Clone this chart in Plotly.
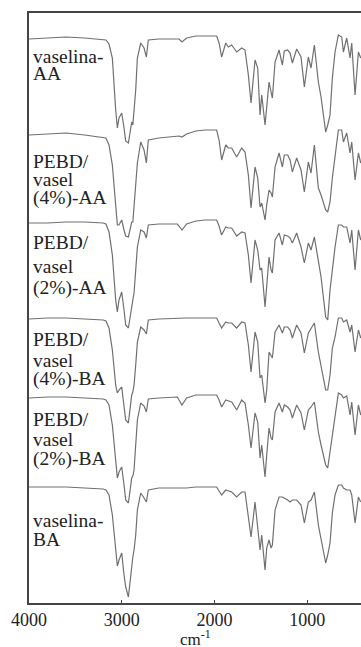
import plotly.graph_objects as go

# Wavenumber grid (cm-1) at which each spectrum was read
wavenumber = [4000, 3800, 3600, 3400, 3200, 3170, 3137, 3101, 3065, 3047,
              3029, 3000, 2975, 2957, 2928, 2905, 2892, 2880, 2867, 2849,
              2831, 2795, 2759, 2734, 2713, 2600, 2400, 2382, 2350, 2300,
              2200, 2100, 1976, 1950, 1922, 1878, 1850, 1814, 1760, 1706,
              1670, 1634, 1605, 1562, 1533, 1508, 1490, 1454, 1436, 1411,
              1389, 1375, 1346, 1303, 1267, 1246, 1210, 1184, 1159, 1113,
              1066, 1030, 987, 958, 922, 879, 850, 800, 778, 753,
              728, 699, 663, 627, 609, 573, 537, 519, 483, 447,
              422]

# Offset transmittance (a.u.) of each stacked spectrum
vaselina_AA = [564, 565, 566, 565, 563, 563, 559, 545, 493, 475,
               485, 490, 475, 462, 460, 475, 481, 478, 491, 513,
               545, 560, 555, 546, 563, 564, 564, 564, 561, 565,
               567, 567, 567, 560, 546, 560, 556, 558, 551, 555,
               553, 528, 500, 543, 535, 488, 508, 478, 495, 521,
               511, 505, 541, 553, 538, 552, 553, 550, 540, 554,
               546, 516, 546, 535, 558, 521, 506, 471, 478, 488,
               525, 551, 568, 566, 551, 565, 545, 560, 508, 551,
               545]

pebd_vasel4_AA = [468, 469, 470, 468, 466, 465, 458, 438, 398, 378,
                  378, 383, 373, 367, 366, 375, 381, 381, 398, 418,
                  440, 461, 453, 440, 463, 465, 467, 467, 466, 469,
                  472, 473, 473, 463, 443, 458, 455, 455, 446, 455,
                  451, 428, 395, 436, 425, 396, 400, 383, 398, 413,
                  410, 406, 436, 450, 436, 448, 448, 443, 431, 445,
                  433, 411, 441, 430, 458, 415, 408, 393, 391, 401,
                  425, 446, 473, 473, 461, 470, 450, 461, 423, 450,
                  440]

pebd_vasel2_AA = [380, 380, 381, 381, 380, 379, 371, 348, 303, 291,
                  303, 311, 293, 278, 275, 291, 296, 303, 310, 333,
                  356, 373, 371, 365, 378, 379, 379, 377, 373, 379,
                  382, 383, 383, 377, 368, 376, 375, 375, 367, 371,
                  370, 348, 320, 363, 353, 333, 335, 296, 320, 346,
                  333, 330, 363, 370, 358, 368, 367, 365, 360, 370,
                  356, 340, 360, 353, 366, 340, 326, 286, 283, 313,
                  336, 356, 378, 378, 376, 376, 360, 373, 333, 373,
                  363]

pebd_vasel4_BA = [284, 285, 285, 284, 283, 282, 275, 253, 218, 210,
                  213, 216, 198, 183, 180, 198, 208, 211, 218, 238,
                  261, 276, 273, 269, 283, 284, 285, 285, 285, 285,
                  285, 285, 285, 280, 275, 281, 280, 280, 275, 281,
                  280, 258, 231, 271, 261, 225, 228, 200, 213, 251,
                  248, 245, 271, 278, 270, 276, 276, 273, 265, 278,
                  270, 250, 270, 275, 280, 251, 238, 213, 213, 228,
                  255, 266, 285, 285, 281, 283, 271, 278, 251, 273,
                  265]

pebd_vasel2_BA = [205, 206, 206, 205, 204, 203, 198, 178, 138, 125,
                  131, 136, 118, 103, 100, 118, 125, 127, 133, 158,
                  183, 200, 197, 191, 204, 205, 206, 203, 198, 205,
                  208, 208, 208, 203, 196, 203, 202, 201, 193, 203,
                  200, 178, 155, 190, 181, 145, 158, 126, 148, 175,
                  165, 163, 191, 200, 191, 198, 196, 193, 185, 198,
                  190, 173, 193, 196, 201, 171, 158, 138, 135, 151,
                  165, 185, 210, 208, 205, 207, 188, 201, 168, 198,
                  188]

vaselina_BA = [116, 116, 116, 115, 114, 113, 108, 88, 58, 37,
               43, 50, 28, 16, 6, 28, 40, 46, 53, 68,
               93, 110, 105, 101, 113, 115, 115, 115, 115, 115,
               116, 116, 116, 112, 108, 113, 112, 111, 106, 111,
               111, 83, 66, 101, 73, 53, 68, 33, 55, 63,
               55, 58, 93, 106, 106, 105, 103, 101, 103, 103,
               98, 80, 101, 103, 111, 78, 63, 40, 48, 60,
               90, 108, 118, 118, 115, 113, 113, 108, 80, 106,
               101]

series = [vaselina_AA, pebd_vasel4_AA, pebd_vasel2_AA,
          pebd_vasel4_BA, pebd_vasel2_BA, vaselina_BA]

label_lines = [["vaselina-", "AA"],
               ["PEBD/", "vasel", "(4%)-AA"],
               ["PEBD/", "vasel", "(2%)-AA"],
               ["PEBD/", "vasel", "(4%)-BA"],
               ["PEBD/", "vasel", "(2%)-BA"],
               ["vaselina-", "BA"]]

tick_vals = [4000, 3000, 2000, 1000]
tick_text = ["4000", "3000", "2000", "1000"]
x_title = "cm<sup>-1</sup>"

# layout positions of label lines (y in data units)
label_y = [[547, 530],
           [442, 424, 405],
           [361, 337, 315],
           [264, 243, 224],
           [184, 164, 144],
           [83, 64]]

fig = go.Figure()
for s in series:
    fig.add_trace(go.Scatter(x=wavenumber, y=s, mode="lines",
                             line=dict(color="#707070", width=1.2),
                             showlegend=False, hoverinfo="skip"))

font_family = "Times New Roman, Liberation Serif, DejaVu Serif, serif"
for lines, ys in zip(label_lines, label_y):
    for t, yy in zip(lines, ys):
        fig.add_annotation(x=0.009, xref="paper", y=yy, yref="y",
                           text=t, showarrow=False, xanchor="left",
                           yanchor="middle", borderpad=0,
                           font=dict(family=font_family, size=19.5, color="#222"))

# x-axis title placed close to the bottom edge as in the reference
fig.add_annotation(x=0.5, xref="paper", y=-0.079, yref="paper",
                   text=x_title, showarrow=False, xanchor="center",
                   yanchor="bottom", borderpad=0,
                   font=dict(family=font_family, size=17, color="#222"))

fig.update_layout(
    width=361, height=647,
    margin=dict(l=29, r=0, t=13, b=44),
    paper_bgcolor="white", plot_bgcolor="white",
    font=dict(family=font_family),
    xaxis=dict(range=[4000, 419], tickvals=tick_vals, ticktext=tick_text,
               showline=True, linecolor="#444", linewidth=1.5, mirror=True,
               ticks="inside", ticklen=3, tickcolor="#444",
               showgrid=False, zeroline=False,
               tickfont=dict(family=font_family, size=18, color="#222")),
    yaxis=dict(range=[0, 590], showline=True, linecolor="#444", linewidth=1.5,
               showticklabels=False, ticks="", showgrid=False, zeroline=False),
)

fig.write_html("out.html", config={"displayModeBar": False},
               post_script="document.body.style.margin='0px';")
